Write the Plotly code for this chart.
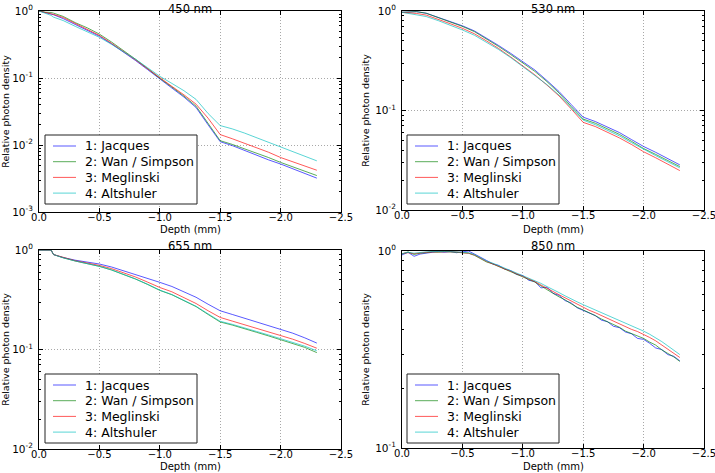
import plotly.graph_objects as go

# depth grid (mm) for the 450 / 530 / 655 nm curves
depth = [0.0, -0.05, -0.1, -0.12, -0.2, -0.3, -0.4, -0.5, -0.6, -0.7, -0.8, -0.9,
         -1.0, -1.1, -1.2, -1.3, -1.4, -1.5, -1.6, -1.7, -1.8, -1.9, -2.0, -2.1,
         -2.2, -2.3]
# finer depth grid (mm) for the noisy 850 nm curves
depth_850 = [0.0, -0.05, -0.1, -0.15, -0.2, -0.25, -0.3, -0.35, -0.4, -0.45, -0.5, -0.55,
             -0.6, -0.65, -0.7, -0.75, -0.8, -0.85, -0.9, -0.95, -1.0, -1.05, -1.1, -1.15,
             -1.2, -1.25, -1.3, -1.35, -1.4, -1.45, -1.5, -1.55, -1.6, -1.65, -1.7, -1.75,
             -1.8, -1.85, -1.9, -1.95, -2.0, -2.05, -2.1, -2.15, -2.2, -2.25, -2.3]

names = ["1: Jacques", "2: Wan / Simpson", "3: Meglinski", "4: Altshuler"]
titles = ["450 nm", "530 nm", "655 nm", "850 nm"]

# 450 nm
jacques_450 = [1.0, 0.95, 0.92, 0.88, 0.77, 0.63, 0.525, 0.42, 0.324, 0.245, 0.182, 0.133,
               0.0955, 0.0708, 0.0519, 0.0363, 0.020, 0.0112, 0.0098, 0.0083, 0.0071, 0.0060,
               0.0052, 0.0044, 0.0037, 0.0032]
wan_450 = [1.0, 0.96, 0.95, 0.93, 0.83, 0.67, 0.56, 0.452, 0.345, 0.258, 0.19, 0.138,
           0.0989, 0.0733, 0.0537, 0.038, 0.0214, 0.0116, 0.0102, 0.0088, 0.0076, 0.0065,
           0.0055, 0.0047, 0.0040, 0.0035]
meglinski_450 = [1.0, 0.95, 0.92, 0.89, 0.80, 0.65, 0.54, 0.432, 0.33, 0.25, 0.186, 0.137,
                 0.100, 0.075, 0.056, 0.0407, 0.0251, 0.0143, 0.0124, 0.0107, 0.0091, 0.0078,
                 0.0065, 0.0056, 0.0048, 0.0042]
altshuler_450 = [1.0, 0.93, 0.86, 0.81, 0.72, 0.59, 0.495, 0.405, 0.318, 0.246, 0.19, 0.142,
                 0.106, 0.083, 0.0646, 0.048, 0.0295, 0.0195, 0.0174, 0.0151, 0.0129, 0.0111,
                 0.0094, 0.0081, 0.0069, 0.0058]

# 530 nm
jacques_530 = [0.97, 0.975, 0.985, 0.985, 0.95, 0.86, 0.78, 0.71, 0.63, 0.535, 0.45, 0.375,
               0.31, 0.255, 0.20, 0.155, 0.115, 0.0857, 0.0775, 0.068, 0.060, 0.051,
               0.0435, 0.038, 0.033, 0.0284]
wan_530 = [0.97, 0.975, 0.985, 0.985, 0.95, 0.86, 0.775, 0.70, 0.62, 0.525, 0.44, 0.365,
           0.30, 0.247, 0.195, 0.15, 0.11, 0.082, 0.0745, 0.066, 0.0575, 0.049,
           0.0415, 0.0362, 0.0315, 0.0273]
meglinski_530 = [0.97, 0.96, 0.95, 0.945, 0.91, 0.83, 0.745, 0.67, 0.59, 0.50, 0.42, 0.345,
                 0.28, 0.228, 0.18, 0.14, 0.104, 0.076, 0.069, 0.061, 0.053, 0.0455,
                 0.0385, 0.0335, 0.029, 0.0249]
altshuler_530 = [0.97, 0.95, 0.93, 0.925, 0.88, 0.80, 0.72, 0.645, 0.57, 0.485, 0.41, 0.34,
                 0.277, 0.228, 0.182, 0.143, 0.107, 0.080, 0.072, 0.0635, 0.0555, 0.0475,
                 0.0405, 0.0352, 0.0305, 0.0265]

# 655 nm
jacques_655 = [1.0, 1.0, 1.0, 0.90, 0.84, 0.79, 0.755, 0.723, 0.675, 0.62, 0.56, 0.515,
               0.473, 0.43, 0.38, 0.335, 0.285, 0.245, 0.225, 0.207, 0.19, 0.174,
               0.16, 0.146, 0.131, 0.116]
wan_655 = [1.0, 1.0, 1.0, 0.90, 0.835, 0.775, 0.73, 0.685, 0.63, 0.57, 0.51, 0.45,
           0.393, 0.355, 0.31, 0.27, 0.225, 0.189, 0.176, 0.163, 0.149, 0.137,
           0.126, 0.115, 0.105, 0.093]
meglinski_655 = [1.0, 1.0, 1.0, 0.90, 0.84, 0.78, 0.74, 0.70, 0.65, 0.59, 0.535, 0.475,
                 0.42, 0.38, 0.335, 0.29, 0.245, 0.21, 0.193, 0.178, 0.163, 0.15,
                 0.138, 0.127, 0.115, 0.103]
altshuler_655 = [1.0, 1.0, 1.0, 0.90, 0.835, 0.775, 0.73, 0.685, 0.632, 0.572, 0.512, 0.452,
                 0.395, 0.357, 0.312, 0.272, 0.228, 0.192, 0.179, 0.166, 0.152, 0.14,
                 0.129, 0.118, 0.108, 0.097]

# 850 nm (on depth_850)
jacques_850 = [0.955, 0.985, 0.94, 0.965, 0.975, 0.985, 0.995, 0.985, 0.995, 0.98, 0.99, 1.0,
               0.965, 0.925, 0.895, 0.86, 0.845, 0.81, 0.795, 0.76, 0.75, 0.71, 0.70, 0.65,
               0.655, 0.61, 0.595, 0.56, 0.545, 0.515, 0.50, 0.485, 0.47, 0.446, 0.438, 0.415,
               0.408, 0.388, 0.38, 0.36, 0.356, 0.34, 0.322, 0.316, 0.298, 0.292, 0.277]
wan_850 = [0.965, 0.99, 0.96, 0.975, 0.98, 0.99, 0.985, 0.995, 0.99, 0.985, 0.975, 0.975,
           0.95, 0.915, 0.88, 0.86, 0.835, 0.81, 0.785, 0.765, 0.74, 0.72, 0.695, 0.665,
           0.64, 0.61, 0.585, 0.565, 0.54, 0.518, 0.502, 0.487, 0.47, 0.452, 0.437, 0.424,
           0.41, 0.392, 0.381, 0.37, 0.36, 0.345, 0.333, 0.315, 0.303, 0.29, 0.275]
meglinski_850 = [0.97, 0.98, 0.97, 0.98, 0.985, 0.99, 0.99, 0.995, 0.99, 0.99, 0.98, 0.975,
                 0.955, 0.92, 0.885, 0.862, 0.84, 0.812, 0.79, 0.768, 0.745, 0.72, 0.70, 0.672,
                 0.65, 0.623, 0.60, 0.578, 0.555, 0.535, 0.517, 0.50, 0.486, 0.47, 0.456, 0.442,
                 0.428, 0.414, 0.40, 0.39, 0.378, 0.364, 0.35, 0.334, 0.318, 0.302, 0.288]
altshuler_850 = [0.97, 0.985, 0.975, 0.985, 0.99, 0.995, 0.995, 0.99, 0.99, 0.99, 0.985, 0.98,
                 0.96, 0.925, 0.89, 0.868, 0.845, 0.82, 0.795, 0.772, 0.75, 0.73, 0.71, 0.685,
                 0.66, 0.64, 0.615, 0.592, 0.57, 0.552, 0.534, 0.518, 0.502, 0.487, 0.472, 0.458,
                 0.444, 0.43, 0.416, 0.404, 0.392, 0.378, 0.363, 0.347, 0.33, 0.313, 0.298]

panels = [
    [jacques_450, wan_450, meglinski_450, altshuler_450],
    [jacques_530, wan_530, meglinski_530, altshuler_530],
    [jacques_655, wan_655, meglinski_655, altshuler_655],
    [jacques_850, wan_850, meglinski_850, altshuler_850],
]
panel_depth = [depth, depth, depth, depth_850]
y_decades = [(-3, 0), (-2, 0), (-2, 0), (-1, 0)]

colors = ["rgba(0,0,255,0.65)", "rgba(0,128,0,0.65)",
          "rgba(255,0,0,0.65)", "rgba(0,191,191,0.65)"]

W, H = 715, 473
# plot areas in pixels: left, right, top, bottom
boxes = [(39, 341, 11, 212), (402, 704, 11, 210),
         (39, 341, 250, 449), (402, 704, 251, 448)]
# title top and x-title centre, pixels from the top
title_top = [0, 0, 236.5, 236.5]
xtitle_mid = [230, 230, 466, 466]
# legend boxes in pixels: left, top (width/height fixed)
legend_pos = [(45, 135), (407, 135), (45, 374), (407, 374)]
leg_w, leg_h, leg_step = 152, 69, 15.7

font = "DejaVu Sans"
fig = go.Figure()
layout = {}
annotations = []
shapes = []

for p in range(4):
    sfx = "" if p == 0 else str(p + 1)
    for i in range(4):
        fig.add_trace(go.Scatter(
            x=panel_depth[p], y=panels[p][i], name=names[i], mode="lines",
            line=dict(color=colors[i], width=1),
            xaxis="x" + sfx, yaxis="y" + sfx, showlegend=False,
        ))

    l, r, t, b = boxes[p]
    lo, hi = y_decades[p]
    xdom = [l / W, r / W]
    ydom = [1 - b / H, 1 - t / H]
    xmid = (xdom[0] + xdom[1]) / 2
    tick_vals = [10 ** k for k in range(lo, hi + 1)]
    tick_text = ["10<sup>%d</sup>" % k for k in range(lo, hi + 1)]

    layout["xaxis" + sfx] = dict(
        domain=xdom, anchor="y" + sfx, range=[0, -2.5], automargin=False,
        tickvals=[0, -0.5, -1.0, -1.5, -2.0, -2.5],
        ticktext=["0.0", "\u22120.5", "\u22121.0", "\u22121.5", "\u22122.0", "\u22122.5"],
        ticks="inside", ticklen=4, tickcolor="black", mirror="allticks",
        ticklabelstandoff=-4, ticklabeloverflow="allow",
        showline=True, linecolor="black", linewidth=1,
        showgrid=True, gridcolor="#a8a8a8", griddash="1px,2px", gridwidth=1,
        zeroline=False, tickfont=dict(size=10, color="black"),
    )
    layout["yaxis" + sfx] = dict(
        domain=ydom, anchor="x" + sfx, type="log", range=[lo, hi], automargin=False,
        tickvals=tick_vals, ticktext=tick_text, ticklabelstandoff=3,
        ticklabeloverflow="allow",
        ticks="inside", ticklen=4, tickcolor="black", mirror="allticks",
        showline=True, linecolor="black", linewidth=1,
        showgrid=True, gridcolor="#a8a8a8", griddash="1px,2px", gridwidth=1,
        zeroline=False, tickfont=dict(size=10.5, color="black"),
        minor=dict(dtick="D1", ticks="inside", ticklen=2, tickcolor="black", showgrid=False),
        title=dict(text="Relative photon density", font=dict(size=9.5, color="black"),
                   standoff=3),
    )

    annotations.append(dict(
        text=titles[p], x=xmid, y=1 - title_top[p] / H,
        xref="paper", yref="paper", xanchor="center", yanchor="top",
        showarrow=False, font=dict(size=11.5, color="black"),
    ))
    annotations.append(dict(
        text="Depth (mm)", x=xmid, y=1 - xtitle_mid[p] / H,
        xref="paper", yref="paper", xanchor="center", yanchor="middle",
        showarrow=False, font=dict(size=10, color="black"),
    ))

    # legend box for this panel
    lx, ly = legend_pos[p]
    shapes.append(dict(
        type="rect", xref="paper", yref="paper",
        x0=lx / W, x1=(lx + leg_w) / W, y0=1 - (ly + leg_h) / H, y1=1 - ly / H,
        line=dict(color="#222222", width=1), fillcolor="white", layer="above",
    ))
    for i in range(4):
        yc = ly + 11 + i * leg_step
        shapes.append(dict(
            type="line", xref="paper", yref="paper",
            x0=(lx + 8) / W, x1=(lx + 31) / W, y0=1 - yc / H, y1=1 - yc / H,
            line=dict(color=colors[i], width=1), layer="above",
        ))
        annotations.append(dict(
            text=names[i], x=(lx + 38) / W, y=1 - yc / H,
            xref="paper", yref="paper", xanchor="left", yanchor="middle",
            showarrow=False, font=dict(size=12.5, color="black"),
        ))

fig.update_layout(
    **layout,
    annotations=annotations,
    shapes=shapes,
    width=W, height=H,
    margin=dict(l=0, r=0, t=0, b=0),
    paper_bgcolor="white", plot_bgcolor="white",
    font=dict(family=font, color="black"),
    showlegend=False,
)

fig.write_html("out.html", config={"displayModeBar": False},
               post_script="document.body.style.margin='0';")
